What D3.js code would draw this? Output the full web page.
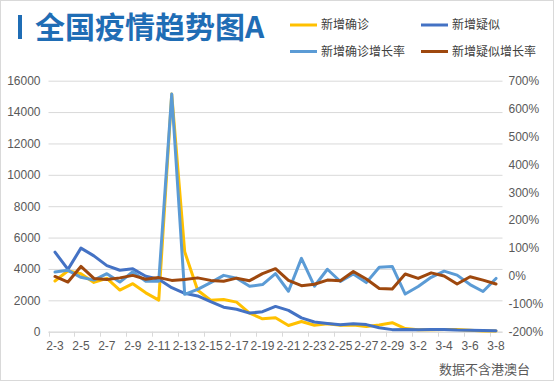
<!DOCTYPE html>
<html><head><meta charset="utf-8">
<script src="https://cdn.jsdelivr.net/npm/d3@7"></script>
<style>
html,body{margin:0;padding:0;background:#fff;}
svg{display:block;}
text{font-family:"Noto Sans CJK SC","Liberation Sans",sans-serif;}
</style></head>
<body>
<svg id="chart" width="555" height="382"></svg>
<script>
const dates = ["2-3","2-4","2-5","2-6","2-7","2-8","2-9","2-10","2-11","2-12","2-13","2-14","2-15","2-16","2-17","2-18","2-19","2-20","2-21","2-22","2-23","2-24","2-25","2-26","2-27","2-28","2-29","3-1","3-2","3-3","3-4","3-5","3-6","3-7","3-8"];
const confirmed = [3235,3887,3694,3143,3399,2656,3062,2478,2015,15152,5090,2641,2009,2048,1886,1185,820,889,397,648,409,508,406,433,327,427,573,202,125,119,139,143,99,44,40];
const suspected = [5072,3971,5328,4833,4214,3916,4008,3536,3342,2807,2450,2277,1918,1563,1432,1185,1277,1614,1361,882,620,530,439,508,452,248,132,141,129,143,143,102,99,84,60];
const confirmedGrowth = [14,20,-5,-15,8,-22,15,-19,-19,652,-66,-48,-24,2,-8,-37,-31,8,-55,63,-37,24,-20,7,-24,31,34,-65,-38,-5,17,3,-31,-56,-9];
const suspectedGrowth = [-2,-22,34,-9,-13,-7,2,-12,-6,-16,-13,-7,-16,-19,-8,-17,8,26,-16,-35,-30,-15,-17,16,-11,-45,-47,7,-9,11,0,-29,-3,-15,-29];
const leftTicks = [0,2000,4000,6000,8000,10000,12000,14000,16000];
const rightTicks = [-200,-100,0,100,200,300,400,500,600,700];
const seriesNames = ["新增确诊","新增疑似","新增确诊增长率","新增疑似增长率"];
const colors = ["#FFC000","#4472C4","#5B9BD5","#9E480E"];
const titleText = "全国疫情趋势图A";
const noteText = "数据不含港澳台";

const svg = d3.select("#chart");
const L = 48.5, R = 502.5, T = 80.7, B = 331.7;

// border
svg.append("rect").attr("x",0.5).attr("y",0.5).attr("width",553).attr("height",380)
  .attr("fill","#fff").attr("stroke","#d9d9d9");

const x = d3.scaleBand().domain(dates).range([L,R]).padding(0);
const yL = d3.scaleLinear().domain([0,16000]).range([B,T]);
const yR = d3.scaleLinear().domain([-200,700]).range([B,T]);

// gridlines
svg.append("g").selectAll("line").data(leftTicks).join("line")
  .attr("x1",L).attr("x2",R).attr("y1",d=>yL(d)+0.5).attr("y2",d=>yL(d)+0.5)
  .attr("stroke","#d9d9d9").attr("stroke-width",1);

// left axis labels
const gl = svg.append("g").attr("transform",`translate(${L},0)`)
  .call(d3.axisLeft(yL).tickValues(leftTicks).tickSize(0).tickPadding(8).tickFormat(d=>d));
gl.select(".domain").remove();
gl.selectAll("text").attr("fill","#595959").style("font-size","12px")
  .style("font-family","'Liberation Sans',Arial,sans-serif");

// right axis labels
const gr = svg.append("g").attr("transform",`translate(${R},0)`)
  .call(d3.axisRight(yR).tickValues(rightTicks).tickSize(0).tickPadding(6).tickFormat(d=>d+"%"));
gr.select(".domain").remove();
gr.selectAll("text").attr("fill","#595959").style("font-size","12px")
  .style("font-family","'Liberation Sans',Arial,sans-serif");

// x axis
svg.append("line").attr("x1",L).attr("x2",R).attr("y1",B+0.5).attr("y2",B+0.5).attr("stroke","#d9d9d9");
const tickDates = dates.filter((d,i)=>i%2===0);
svg.append("g").selectAll("line").data(tickDates).join("line")
  .attr("x1",d=>Math.round(x(d))+0.5).attr("x2",d=>Math.round(x(d))+0.5)
  .attr("y1",B).attr("y2",B+5).attr("stroke","#d9d9d9");
svg.append("g").selectAll("text").data(tickDates).join("text")
  .attr("x",d=>x(d)+x.bandwidth()/2).attr("y",350)
  .attr("text-anchor","middle").attr("fill","#595959")
  .style("font-size","12px").style("font-family","'Liberation Sans',Arial,sans-serif")
  .text(d=>d);

// lines
const cx = i => x(dates[i]) + x.bandwidth()/2;
const mk = (arr, sc) => d3.line().x((d,i)=>cx(i)).y(d=>sc(d))(arr);
const paths = [[confirmed,yL],[suspected,yL],[confirmedGrowth,yR],[suspectedGrowth,yR]];
paths.forEach((p,k)=>{
  svg.append("path").attr("d",mk(p[0],p[1])).attr("fill","none")
    .attr("stroke",colors[k]).attr("stroke-width",3)
    .attr("stroke-linejoin","round").attr("stroke-linecap","round");
});

// title
svg.append("rect").attr("x",18).attr("y",15).attr("width",4).attr("height",24).attr("fill","#1F6DB5");
svg.append("text").attr("x",35).attr("y",37.5).attr("fill","#1F6DB5")
  .style("font-size","30px").style("font-weight","700").text(titleText);

// legend
const legPos = [[290,25],[421,25],[290,51.5],[421,51.5]];
seriesNames.forEach((n,k)=>{
  const [lx,ly] = legPos[k];
  svg.append("line").attr("x1",lx).attr("x2",lx+27).attr("y1",ly).attr("y2",ly)
    .attr("stroke",colors[k]).attr("stroke-width",3);
  svg.append("text").attr("x",lx+31).attr("y",ly+4.3).attr("fill","#404040")
    .style("font-size","12px").text(n);
});

// note
svg.append("text").attr("x",530).attr("y",374).attr("text-anchor","end").attr("fill","#595959")
  .style("font-size","13px").text(noteText);
</script>
</body></html>
